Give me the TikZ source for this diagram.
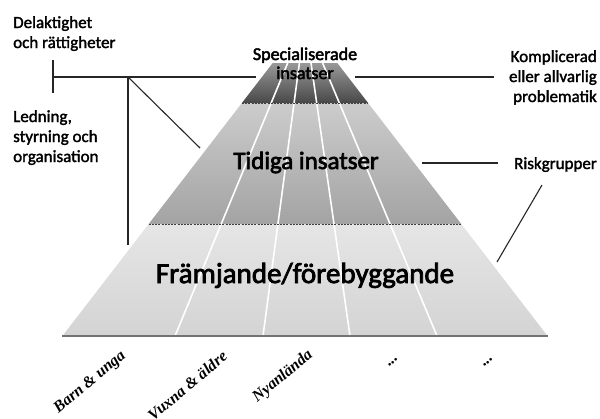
\documentclass[tikz,border=0pt]{standalone}
\usepackage{fontspec}
\setmainfont{Carlito}
\newfontfamily\midfont{Carlito}[FakeBold=1.8]
\newfontfamily\heavyfont{Carlito}[FakeBold=2.6]
\newfontfamily\colfont{Liberation Serif}
\begin{document}
\begin{tikzpicture}[x=1pt,y=-1pt,
  lbl/.style={font=\midfont\fontsize{17}{20}\selectfont, inner sep=0pt},
  big/.style={inner sep=0pt},
  conn/.style={line width=1.1pt, black!85},
  colline/.style={white, line width=1.6pt},
  bandsep/.style={black!75, line width=1pt, dash pattern=on 2pt off 1.2pt},
  collbl/.style={font=\colfont\bfseries\itshape\fontsize{16}{18}\selectfont, rotate=40, anchor=east, inner sep=0pt}]
\useasboundingbox (0,0) rectangle (600,418);
% pyramid bands
\shade[top color=black!40, bottom color=black!72] (272.7,63) -- (337.3,63) -- (368.1,103) -- (241.9,103) -- cycle;
\shade[top color=black!20, bottom color=black!36] (241.9,103) -- (368.1,103) -- (461.3,224) -- (148.7,224) -- cycle;
\shade[top color=black!10, bottom color=black!17] (148.7,224) -- (461.3,224) -- (547.6,336) -- (62.4,336) -- cycle;
% column lines
\foreach \b in {175,263,350,437}{
  \draw[colline] ({305+(\b-305)*42/315},63) -- (\b,336);
}
\draw[bandsep] (241.9,103) -- (368.1,103);
\draw[bandsep] (148.7,224) -- (461.3,224);
\draw[black!55, line width=1.4pt] (62.4,336) -- (547.6,336);
% texts
\node[lbl, font=\heavyfont\fontsize{18}{19}\selectfont, align=center, anchor=base] (spec) at (305,79) {Specialiserade\\insatser};
\node[big, font=\heavyfont\fontsize{25}{28}\selectfont, anchor=base] (tid) at (306,169) {Tidiga insatser};
\node[big, font=\heavyfont\fontsize{29}{30}\selectfont, anchor=base] (fram) at (305,283) {Främjande/förebyggande};
\node[lbl, align=left, anchor=base west] (del) at (13,48) {Delaktighet\\och rättigheter};
\node[lbl, align=left, anchor=base west] (led) at (13,162) {Ledning,\\styrning och\\organisation};
\node[lbl, align=right, anchor=base east] (komp) at (597,102) {Komplicerad\\eller allvarlig\\problematik};
\node[lbl, anchor=base east] (risk) at (597,169) {Riskgrupper};
% column labels
\node[collbl] (c1) at (124,354) {Barn \& unga};
\node[collbl] (c2) at (225,354) {Vuxna \& äldre};
\node[collbl] (c3) at (311,353) {Nyanlända};
\node[collbl] (c4) at (398,358) {...};
\node[collbl] (c5) at (493,358) {...};
% connectors
\coordinate (tickT) at (53,60);
\coordinate (tickB) at (53,93);
\coordinate (jL) at (53,77);
\coordinate (jM) at (128,77);
\coordinate (jR) at (256,77);
\coordinate (vB) at (128,245);
\coordinate (dE) at (200,148);
\coordinate (sR1) at (355,77);
\coordinate (sR2) at (494,77);
\coordinate (tR1) at (422,163);
\coordinate (tR2) at (498,163);
\coordinate (rA) at (542,185);
\coordinate (rB) at (497,262);
\draw[conn] (tickT) -- (tickB);
\draw[conn] (jL) -- (jR);
\draw[conn] (jM) -- (vB);
\draw[conn] (jM) -- (dE);
\draw[conn] (sR1) -- (sR2);
\draw[conn] (tR1) -- (tR2);
\draw[conn] (rA) -- (rB);
\end{tikzpicture}
\end{document}
